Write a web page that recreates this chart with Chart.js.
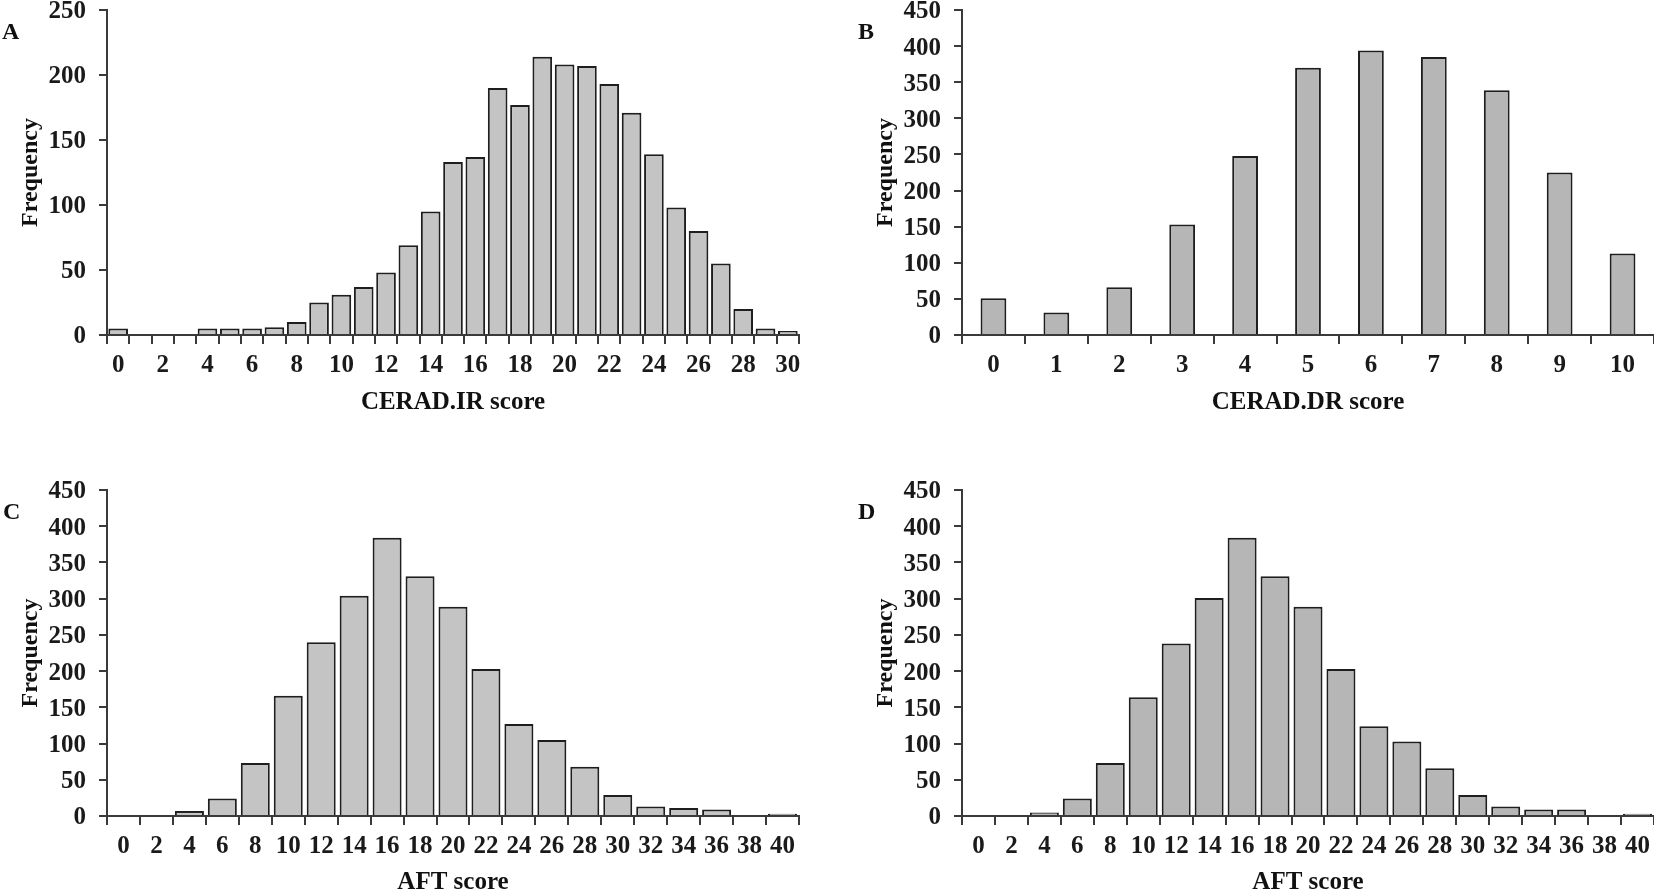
<!DOCTYPE html>
<html>
<head>
<meta charset="utf-8">
<script src="https://cdn.jsdelivr.net/npm/chart.js@4.4.0/dist/chart.umd.min.js"></script>
<style>
  html, body { margin: 0; padding: 0; background: #fff; overflow: hidden; width: 1654px; height: 890px; }
  canvas { position: absolute; }
  .letter { position: absolute; font: bold 24px 'Liberation Serif', serif; line-height: 24px; color: #111; }
</style>
</head>
<body>
<canvas id="chartA" width="830" height="420" style="left:0;top:0"></canvas>
<canvas id="chartB" width="799" height="420" style="left:855px;top:0"></canvas>
<canvas id="chartC" width="830" height="430" style="left:0;top:470px"></canvas>
<canvas id="chartD" width="799" height="430" style="left:855px;top:470px"></canvas>
<div class="letter" style="left:2px;top:19px">A</div>
<div class="letter" style="left:858px;top:19px">B</div>
<div class="letter" style="left:3px;top:499px">C</div>
<div class="letter" style="left:858px;top:499px">D</div>
<script>
// CERAD immediate recall (panel A)
const irScores = ['0','1','2','3','4','5','6','7','8','9','10','11','12','13','14','15','16','17','18','19','20','21','22','23','24','25','26','27','28','29','30'];
const irFreq = [5, 0, 0, 0, 5, 5, 5, 6, 10, 25, 31, 37, 48, 69, 95, 133, 137, 190, 177, 214, 208, 207, 193, 171, 139, 98, 80, 55, 20, 5, 3];

// CERAD delayed recall (panel B)
const drScores = ['0','1','2','3','4','5','6','7','8','9','10'];
const drFreq = [51, 31, 66, 153, 248, 370, 394, 385, 339, 225, 113];

// animal fluency (panels C, D)
const aftScores = ['0','2','4','6','8','10','12','14','16','18','20','22','24','26','28','30','32','34','36','38','40'];
const aftFreqC = [0, 0, 7, 24, 73, 166, 240, 304, 384, 331, 289, 203, 127, 105, 68, 29, 13, 11, 9, 0, 3];
const aftFreqD = [0, 0, 5, 24, 73, 164, 238, 301, 384, 331, 289, 203, 124, 103, 66, 29, 13, 9, 9, 0, 3];

const FONT = "'Liberation Serif', 'Times New Roman', serif";
const AXIS = '#3a3a3a';

function fixBox(w, h) {
  return scale => {
    if (w) scale.width = w;
    if (h) scale.height = h;
    scale.paddingTop = scale.paddingBottom = scale.paddingLeft = scale.paddingRight = 0;
  };
}

function histogram(id, cfg) {
  new Chart(document.getElementById(id), {
    type: 'bar',
    data: {
      labels: cfg.labels,
      datasets: [{
        data: cfg.values,
        backgroundColor: cfg.fill,
        borderColor: '#1e1e1e',
        borderWidth: 2,
        borderSkipped: 'start',
        categoryPercentage: 1,
        barPercentage: cfg.barPct,
      }],
    },
    options: {
      responsive: false,
      animation: false,
      layout: { padding: cfg.padding },
      plugins: { legend: { display: false }, tooltip: { enabled: false } },
      scales: {
        x: {
          grid: { drawOnChartArea: false, tickLength: 9, color: AXIS, lineWidth: 2, offset: true },
          border: { color: AXIS, width: 2 },
          ticks: {
            autoSkip: false, maxRotation: 0, padding: 7, color: '#1a1a1a',
            font: { family: FONT, size: 25, weight: 'bold' },
            callback: (v, i) => (i % cfg.every === 0 ? cfg.labels[i] : ''),
          },
          title: { display: true, text: cfg.xTitle, color: '#111', font: { family: FONT, size: 25, weight: 'bold' }, padding: { top: 0, bottom: 2 } },
          afterFit: fixBox(0, cfg.xHeight),
        },
        y: {
          min: 0, max: cfg.yMax,
          grid: { drawOnChartArea: false, tickLength: 8, color: AXIS, lineWidth: 2 },
          border: { color: AXIS, width: 2 },
          ticks: { stepSize: 50, padding: 13, labelOffset: 2, color: '#1a1a1a', font: { family: FONT, size: 25, weight: 'bold' } },
          title: { display: true, text: 'Frequency', color: '#111', font: { family: FONT, size: 24, weight: 'bold' }, padding: { top: 16, bottom: 0 } },
          afterFit: fixBox(107, 0),
        },
      },
    },
  });
}

histogram('chartA', { labels: irScores, values: irFreq, every: 2, yMax: 250, barPct: 0.88, fill: '#c4c4c4', xTitle: 'CERAD.IR score', xHeight: 85, padding: { top: 10, right: 31, left: 0, bottom: 0 } });
histogram('chartB', { labels: drScores, values: drFreq, every: 1, yMax: 450, barPct: 0.41, fill: '#b6b6b6', xTitle: 'CERAD.DR score', xHeight: 85, padding: { top: 10, right: 0, left: 0, bottom: 0 } });
histogram('chartC', { labels: aftScores, values: aftFreqC, every: 1, yMax: 450, barPct: 0.88, fill: '#c4c4c4', xTitle: 'AFT score', xHeight: 84, padding: { top: 20, right: 31, left: 0, bottom: 0 } });
histogram('chartD', { labels: aftScores, values: aftFreqD, every: 1, yMax: 450, barPct: 0.88, fill: '#b6b6b6', xTitle: 'AFT score', xHeight: 84, padding: { top: 20, right: 0, left: 0, bottom: 0 } });
</script>
</body>
</html>
